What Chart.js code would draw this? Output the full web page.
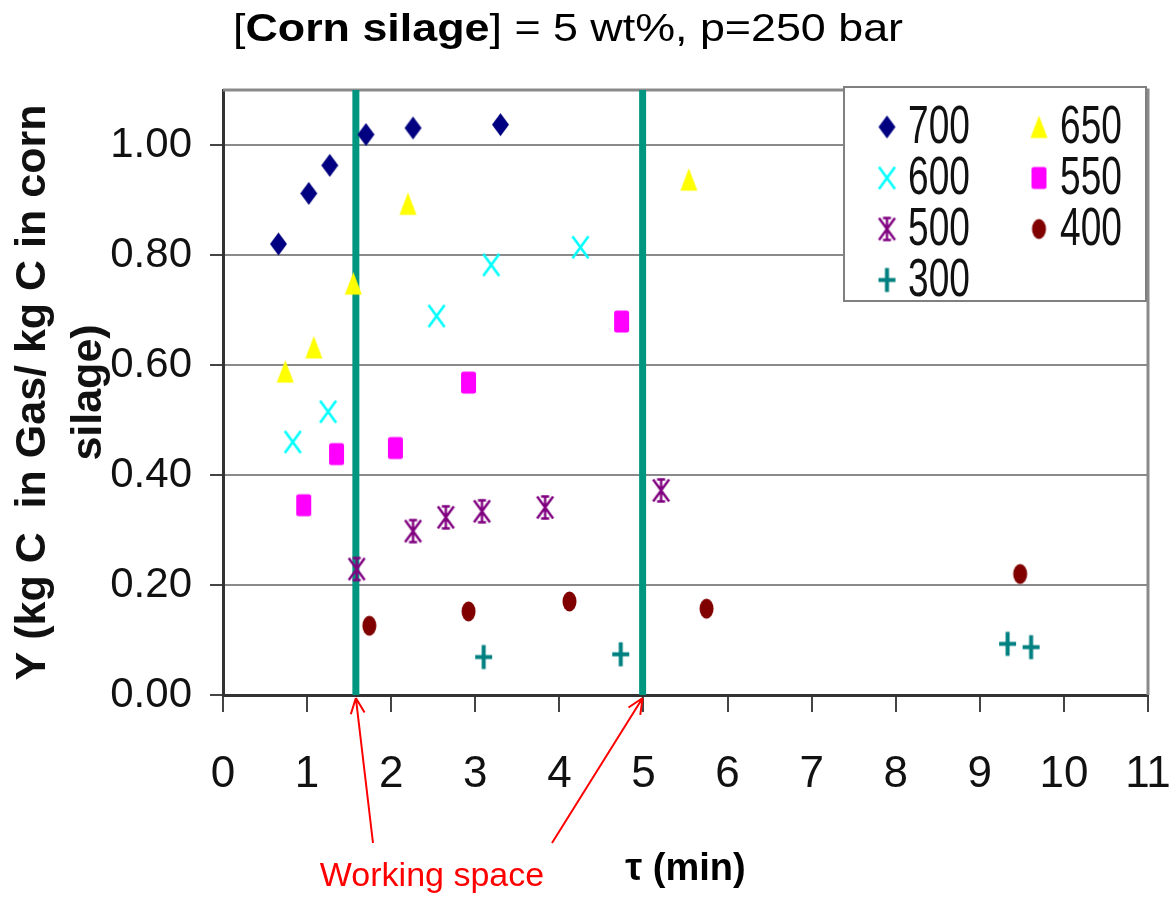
<!DOCTYPE html>
<html>
<head>
<meta charset="utf-8">
<script src="https://cdn.jsdelivr.net/npm/chart.js@4.4.1/dist/chart.umd.min.js"></script>
<style>
  html, body { margin: 0; padding: 0; background: #fff; }
  #grafico { display: block; }
</style>
</head>
<body>
<canvas id="grafico" width="1169" height="898"></canvas>
<script>
// series (temperature, legend order)
const seriesNames = ['700', '650', '600', '550', '500', '400', '300'];

// tau (min) / Y values
const tau700 = [0.66, 1.02, 1.27, 1.70, 2.26, 3.30];
const y700   = [0.820, 0.912, 0.963, 1.019, 1.031, 1.037];

const tau650 = [0.74, 1.08, 1.55, 2.20, 5.54];
const y650   = [0.588, 0.632, 0.748, 0.893, 0.937];

const tau600 = [0.83, 1.25, 2.54, 3.19, 4.25];
const y600   = [0.460, 0.515, 0.689, 0.782, 0.814];

const tau550 = [0.96, 1.35, 2.05, 2.92, 4.74];
const y550   = [0.345, 0.438, 0.449, 0.568, 0.679];

const tau500 = [1.59, 2.26, 2.65, 3.08, 3.83, 5.21];
const y500   = [0.229, 0.298, 0.323, 0.334, 0.341, 0.372];

const tau400 = [1.74, 2.92, 4.12, 5.75, 9.48];
const y400   = [0.126, 0.152, 0.170, 0.157, 0.220];

const tau300 = [3.10, 4.73, 9.33, 9.61];
const y300   = [0.069, 0.074, 0.093, 0.087];

// limits of the "working space"
const workingSpace = [1.58, 4.99];

const xTickLabels = ['0', '1', '2', '3', '4', '5', '6', '7', '8', '9', '10', '11'];
const yTickLabels = ['0.00', '0.20', '0.40', '0.60', '0.80', '1.00'];

const SANS = "'Liberation Sans', Arial, sans-serif";

// markers drawn once on small canvases, then used as pointStyle
function marcador(tipo, cor) {
  const c = document.createElement('canvas');
  c.width = 21; c.height = 27;
  const g = c.getContext('2d');
  const cx = 10.5, cy = 13.5;
  g.fillStyle = cor;
  g.strokeStyle = cor;
  g.beginPath();
  if (tipo === 'diamante') {
    g.moveTo(cx, cy - 11.5); g.lineTo(cx + 8.5, cy); g.lineTo(cx, cy + 11.5); g.lineTo(cx - 8.5, cy);
    g.closePath(); g.fill();
  } else if (tipo === 'triangulo') {
    g.moveTo(cx, cy - 11.5); g.lineTo(cx + 8.5, cy + 11); g.lineTo(cx - 8.5, cy + 11);
    g.closePath(); g.fill();
  } else if (tipo === 'xis') {
    g.lineWidth = 2.6;
    g.moveTo(cx - 8, cy - 11); g.lineTo(cx + 8, cy + 11);
    g.moveTo(cx + 8, cy - 11); g.lineTo(cx - 8, cy + 11);
    g.stroke();
  } else if (tipo === 'quadrado') {
    g.roundRect(cx - 7.5, cy - 11, 15, 22, 2.5);
    g.fill();
  } else if (tipo === 'estrela') {
    g.lineWidth = 2.4;
    g.moveTo(cx - 8, cy - 11); g.lineTo(cx + 8, cy + 11);
    g.moveTo(cx + 8, cy - 11); g.lineTo(cx - 8, cy + 11);
    g.moveTo(cx, cy - 12); g.lineTo(cx, cy + 12);
    g.moveTo(cx - 4, cy - 11); g.lineTo(cx + 4, cy - 11);
    g.moveTo(cx - 4, cy + 11); g.lineTo(cx + 4, cy + 11);
    g.stroke();
  } else if (tipo === 'circulo') {
    g.ellipse(cx, cy, 7, 10, 0, 0, Math.PI * 2);
    g.fill();
  } else if (tipo === 'mais') {
    g.lineWidth = 4;
    g.moveTo(cx - 8.5, cy); g.lineTo(cx + 8.5, cy);
    g.moveTo(cx, cy - 12); g.lineTo(cx, cy + 12);
    g.stroke();
  }
  return c;
}

const estilos = [
  marcador('diamante', '#000080'),
  marcador('triangulo', '#FFFF00'),
  marcador('xis', '#00FFFF'),
  marcador('quadrado', '#FF00FF'),
  marcador('estrela', '#800080'),
  marcador('circulo', '#800000'),
  marcador('mais', '#008080')
];

const taus = [tau700, tau650, tau600, tau550, tau500, tau400, tau300];
const ys = [y700, y650, y600, y550, y500, y400, y300];

const datasets = seriesNames.map((nome, i) => ({
  label: nome,
  data: taus[i].map((t, k) => ({ x: t, y: ys[i][k] })),
  pointStyle: estilos[i],
  pointRadius: 10,
  showLine: false,
  order: 1
}));

// vertical limits of the working space, as line datasets
workingSpace.forEach((t, i) => {
  datasets.push({
    label: 'ws' + i,
    data: [{ x: t, y: 0 }, { x: t, y: 1.1 }],
    showLine: true,
    borderColor: '#00967F',
    borderWidth: 7,
    pointRadius: 0,
    order: 5
  });
});

// condensed text (the original lettering is tall and narrow)
function textoEstreito(ctx, txt, x, y, escala) {
  ctx.save();
  ctx.translate(x, y);
  ctx.scale(escala, 1);
  ctx.fillText(txt, 0, 0);
  ctx.restore();
}

const extras = {
  id: 'extras',
  beforeDatasetsDraw(chart) {
    const { ctx, chartArea: a } = chart;
    ctx.save();
    ctx.strokeStyle = '#8a8a8a';
    ctx.lineWidth = 3;
    ctx.beginPath();
    ctx.moveTo(a.left, a.top);
    ctx.lineTo(a.right, a.top);
    ctx.lineTo(a.right, a.bottom);
    ctx.stroke();
    ctx.restore();
  },
  afterDraw(chart) {
    const { ctx, chartArea: a, scales: { x } } = chart;
    ctx.save();

    // legend box
    const lx = 844, ly = 87, lw = 302, lh = 214;
    ctx.fillStyle = '#fff';
    ctx.fillRect(lx, ly, lw, lh);
    ctx.strokeStyle = '#808080';
    ctx.lineWidth = 2;
    ctx.strokeRect(lx, ly, lw, lh);
    ctx.font = '53px ' + SANS;
    ctx.textBaseline = 'middle';
    ctx.textAlign = 'left';
    seriesNames.forEach((nome, i) => {
      const col = i % 2, lin = Math.floor(i / 2);
      const mx = col === 0 ? 887 : 1039;
      const my = 127 + lin * 51;
      Chart.helpers.drawPoint(ctx, { pointStyle: estilos[i], radius: 10 }, mx, my);
      ctx.fillStyle = '#111';
      textoEstreito(ctx, nome, mx + 21, my + 1, 0.7);
    });

    // title with bold part
    const partes = [['[', false], ['Corn silage', true], ['] = 5 wt%, p=250 bar', false]];
    const fonte = b => (b ? 'bold ' : '') + '39px ' + SANS;
    let total = 0;
    partes.forEach(p => { ctx.font = fonte(p[1]); total += ctx.measureText(p[0]).width; });
    const esc = 670 / total;
    ctx.fillStyle = '#000';
    ctx.textBaseline = 'alphabetic';
    let px = 233;
    partes.forEach(p => {
      ctx.font = fonte(p[1]);
      textoEstreito(ctx, p[0], px, 41, esc);
      px += ctx.measureText(p[0]).width * esc;
    });

    // red arrows and label
    ctx.strokeStyle = '#FF0000';
    ctx.lineWidth = 2;
    const caudas = [[373, 843], [552, 843]];
    workingSpace.forEach((t, i) => {
      const tx = x.getPixelForValue(t), ty = a.bottom + 3;
      const [cx, cy] = caudas[i];
      const ang = Math.atan2(ty - cy, tx - cx);
      ctx.beginPath();
      ctx.moveTo(cx, cy);
      ctx.lineTo(tx, ty);
      [0.42, -0.42].forEach(d => {
        ctx.moveTo(tx, ty);
        ctx.lineTo(tx - 17 * Math.cos(ang + d), ty - 17 * Math.sin(ang + d));
      });
      ctx.stroke();
    });
    ctx.font = '34px ' + SANS;
    ctx.fillStyle = '#FF0000';
    ctx.textAlign = 'center';
    ctx.textBaseline = 'middle';
    ctx.fillText('Working space', 432, 877);
    ctx.restore();
  }
};

new Chart(document.getElementById('grafico'), {
  type: 'scatter',
  data: { datasets },
  plugins: [extras],
  options: {
    responsive: false,
    animation: false,
    layout: { padding: { top: 90, right: 21, left: 0, bottom: 0 } },
    plugins: {
      legend: { display: false },
      tooltip: { enabled: false }
    },
    scales: {
      x: {
        type: 'linear',
        min: 0,
        max: 11,
        afterFit: s => { s.height = 203; s.paddingLeft = 0; s.paddingRight = 0; },
        ticks: {
          stepSize: 1,
          padding: 36,
          color: '#111',
          font: { family: SANS, size: 44 },
          callback: (v, i) => xTickLabels[i]
        },
        grid: {
          drawOnChartArea: false,
          tickLength: 17,
          tickColor: '#444',
          lineWidth: 2
        },
        border: { color: '#333', width: 3 },
        title: {
          display: true,
          text: 'τ (min)',
          color: '#000',
          font: { family: SANS, size: 38, weight: 'bold', lineHeight: '48px' },
          padding: { top: 0, bottom: 4 }
        }
      },
      y: {
        min: 0,
        max: 1.1,
        afterFit: s => { s.width = 223; s.paddingTop = 0; s.paddingBottom = 0; },
        ticks: {
          stepSize: 0.2,
          includeBounds: false,
          padding: 18,
          color: '#111',
          font: { family: SANS, size: 42 },
          callback: (v, i) => yTickLabels[i]
        },
        grid: {
          color: '#8a8a8a',
          lineWidth: 2,
          tickLength: 13,
          tickColor: '#444'
        },
        border: { color: '#333', width: 3 },
        title: {
          display: true,
          text: ['Y (kg C  in Gas/ kg C in corn', 'silage)'],
          color: '#111',
          font: { family: SANS, size: 43, weight: 'bold', lineHeight: '56px' },
          padding: { top: 5, bottom: 0 }
        }
      }
    }
  }
});
</script>
</body>
</html>
